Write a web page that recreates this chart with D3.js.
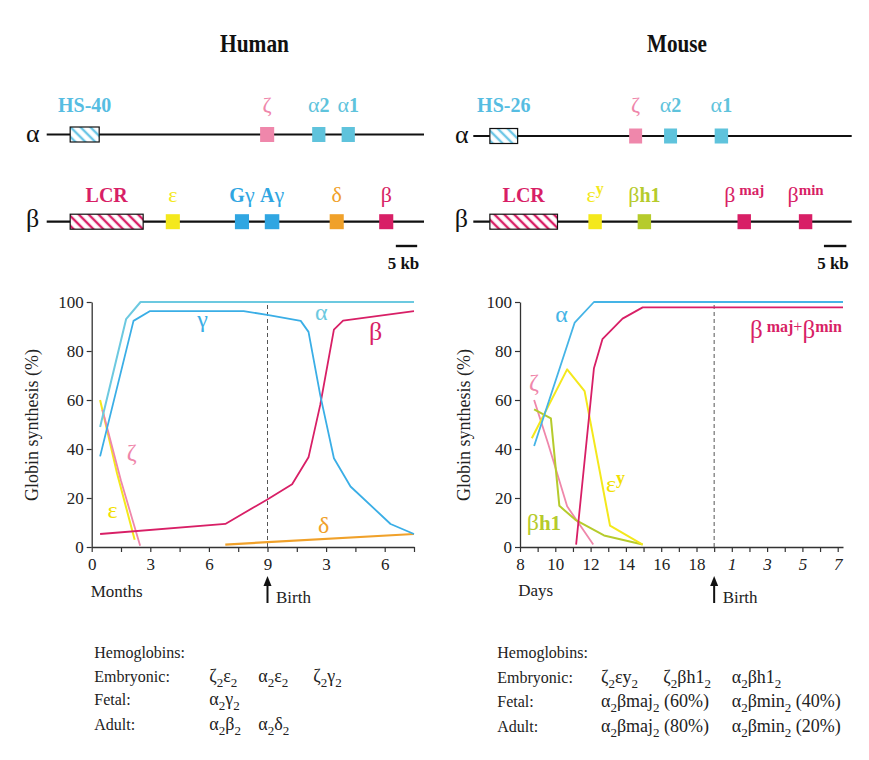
<!DOCTYPE html>
<html><head><meta charset="utf-8">
<script src="https://cdn.jsdelivr.net/npm/d3@7/dist/d3.min.js"></script>
<style>
body{margin:0;background:#fff;}
svg{display:block;}
svg text, svg tspan{font-family:"Liberation Serif","Times New Roman",Times,"DejaVu Serif",serif;}
</style></head><body>
<svg id="fig" width="869" height="760" font-family="Liberation Serif, Times New Roman, DejaVu Serif, serif"></svg>
<script>
// ================= DATA =================
const yTicks = [0, 20, 40, 60, 80, 100];
const humanXTicks = [0, 1.5, 3, 4.5, 6, 7.5, 9, 10.5, 12, 13.5, 15, 16.5];
const humanXLabelVals = [0, 3, 6, 9, 12, 15];
const humanXLabels = ["0", "3", "6", "9", "3", "6"];
const mouseXTicks = [8,9,10,11,12,13,14,15,16,17,18,19,20,21,22,23,24,25,26];
const mouseXLabelVals = [8, 10, 12, 14, 16, 18, 20, 22, 24, 26];
const mouseXLabels = ["8", "10", "12", "14", "16", "18", "1", "3", "5", "7"];
const humanBirth = 9;   // months
const mouseBirth = 19;  // days

// human series: [months, % synthesis]
const humanAlpha   = [[0.43,49],[1.76,93],[2.5,100],[16.5,100]];
const humanGamma   = [[0.43,37],[2.14,92.3],[2.99,96.3],[7.78,96.3],[9.06,94.6],[10.7,92.3],[11.1,87.8],[11.7,62],[12.4,36.2],[13.25,24.7],[15.3,9.4],[16.5,5.3]];
const humanBeta    = [[0.43,5.3],[6.84,9.4],[7.69,13.4],[8.97,19.3],[10.26,25.6],[11.1,36.6],[11.7,58],[12.4,88.7],[12.87,92.4],[16.5,96.3]];
const humanEpsilon = [[0.43,60],[1.3,30],[2.2,3]];
const humanZeta    = [[0.55,56],[1.5,27],[2.48,0.5]];
const humanDelta   = [[6.84,1],[16.5,5.3]];

// mouse series: [days, % synthesis]
const mouseAlpha = [[8.8,41.2],[11.1,91.6],[12.19,100],[26.3,100]];
const mouseBeta  = [[11.18,1],[12.19,73],[12.67,84.8],[13.81,93.2],[14.95,97.8],[26.3,97.8]];
const mouseEy    = [[8.67,44.4],[10.67,72.5],[11.66,63.6],[13.1,8.7],[14.95,1]];
const mouseBh1   = [[8.8,56.2],[9.75,52.5],[10.23,16.8],[11.14,11.1],[12.76,4.7],[14.95,1]];
const mouseZeta  = [[8.8,60],[9.6,42],[10.67,16.6],[12.15,1]];

// gene maps (positions in kb from the start of each locus line)
const humanAlphaGenes = [
  {label:[{t:"HS-40",w:"bold",s:20}], start:5.5, end:12.3, kind:"hatch", color:"#56bde2"},
  {label:[{t:"ζ",s:22}], start:50, end:53.3, color:"#ef87ab"},
  {label:[{t:"α",s:22},{t:"2",s:20,w:"bold"}], start:62.2, end:65.3, color:"#5fc3dc"},
  {label:[{t:"α",s:22},{t:"1",s:20,w:"bold"}], start:69.1, end:72.2, color:"#5fc3dc"}
];
const humanBetaGenes = [
  {label:[{t:"LCR",w:"bold",s:20}], start:5.5, end:22.6, kind:"hatch", color:"#d81f66"},
  {label:[{t:"ε",s:22}], start:27.9, end:31.2, color:"#f4e81c"},
  {label:[{t:"G",w:"bold",s:20},{t:"γ",s:22}], start:44.1, end:47.4, color:"#30a6e2"},
  {label:[{t:"A",w:"bold",s:20},{t:"γ",s:22}], start:51.1, end:54.5, color:"#30a6e2"},
  {label:[{t:"δ",s:22}], start:66.3, end:69.6, color:"#f0a12a"},
  {label:[{t:"β",s:22}], start:77.9, end:81.2, color:"#d81f66"}
];
const mouseAlphaGenes = [
  {label:[{t:"HS-26",w:"bold",s:20}], start:3.7, end:9.9, kind:"hatch", color:"#56bde2"},
  {label:[{t:"ζ",s:22}], start:34.8, end:37.7, color:"#ef87ab"},
  {label:[{t:"α",s:22},{t:"2",s:20,w:"bold"}], start:42.6, end:45.5, color:"#5fc3dc"},
  {label:[{t:"α",s:22},{t:"1",s:20,w:"bold"}], start:53.9, end:56.9, color:"#5fc3dc"}
];
const mouseBetaGenes = [
  {label:[{t:"LCR",w:"bold",s:20}], start:3.7, end:18.8, kind:"hatch", color:"#d81f66"},
  {label:[{t:"ε",s:22},{t:"y",s:16,w:"bold",dy:-8}], start:25.7, end:28.7, color:"#f4e81c"},
  {label:[{t:"β",s:22},{t:"h1",s:20,w:"bold"}], start:36.7, end:39.7, color:"#b6cb2c"},
  {label:[{t:"β",s:22},{t:" maj",s:15,w:"bold",dy:-7}], start:59, end:62, color:"#d81f66"},
  {label:[{t:"β",s:22},{t:"min",s:15,w:"bold",dy:-7}], start:72.7, end:75.7, color:"#d81f66"}
];
const humanLocusKb = 88.4, mouseLocusKb = 84.5;
const humanScaleBar = [81.8, 86.8], mouseScaleBar = [78.3, 83.3];

// hemoglobin tables
const hbRowNames = ["Embryonic:", "Fetal:", "Adult:"];
const humanHb = [["ζ_2ε_2","α_2ε_2","ζ_2γ_2"],["α_2γ_2"],["α_2β_2","α_2δ_2"]];
const mouseHb = [["ζ_2εy_2","ζ_2βh1_2","α_2βh1_2"],["α_2βmaj_2 (60%)","α_2βmin_2 (40%)"],["α_2βmaj_2 (80%)","α_2βmin_2 (20%)"]];

// ================= DRAW =================
const SERIF = "Liberation Serif, Times New Roman, DejaVu Serif, serif";
const svg = d3.select("#fig");
const defs = svg.append("defs");
function hatch(id, color){
  const p = defs.append("pattern").attr("id",id).attr("patternUnits","userSpaceOnUse")
    .attr("width",7).attr("height",7).attr("patternTransform","rotate(-45)");
  p.append("rect").attr("width",7).attr("height",7).attr("fill","#fff");
  p.append("line").attr("x1",2).attr("y1",0).attr("x2",2).attr("y2",7)
    .attr("stroke",color).attr("stroke-width",2.4);
}
hatch("hBlue","#6cc6e6"); hatch("hMag","#d81f66");

function rich(sel, x, y, parts, anchor, fill){
  const t = sel.append("text").attr("x",x).attr("y",y).attr("font-family",SERIF)
    .attr("text-anchor",anchor||"middle").attr("fill",fill||"#111");
  let shift = 0;
  parts.forEach(p=>{
    const ts = t.append("tspan").text(p.t);
    if(p.s) ts.attr("font-size",p.s);
    if(p.w) ts.attr("font-weight",p.w);
    if(p.st) ts.attr("font-style",p.st);
    if(p.fill) ts.attr("fill",p.fill);
    const want = p.dy||0;
    if(want!==shift){ ts.attr("dy", want-shift); shift = want; }
  });
  return t;
}

// Titles
svg.append("text").attr("x",254.5).attr("y",52).attr("text-anchor","middle").attr("font-family",SERIF)
  .attr("font-weight","bold").attr("font-size",26).attr("textLength",69)
  .attr("lengthAdjust","spacingAndGlyphs").attr("fill","#111").text("Human");
svg.append("text").attr("x",677).attr("y",52).attr("text-anchor","middle").attr("font-family",SERIF)
  .attr("font-weight","bold").attr("font-size",26).attr("textLength",60)
  .attr("lengthAdjust","spacingAndGlyphs").attr("fill","#111").text("Mouse");

// Gene maps
function locus(genes, kbScale, lineY, labelY, rowName, nameX, nameY){
  const g = svg.append("g");
  const [k0,k1] = kbScale.domain();
  g.append("line").attr("x1",kbScale(k0)).attr("x2",kbScale(k1))
    .attr("y1",lineY).attr("y2",lineY).attr("stroke","#111").attr("stroke-width",2.2);
  g.selectAll("rect.gene").data(genes).join("rect").attr("class","gene")
    .attr("x",d=>kbScale(d.start)).attr("width",d=>kbScale(d.end)-kbScale(d.start))
    .attr("y",lineY-7.5).attr("height",15)
    .attr("fill",d=>d.kind==="hatch" ? (d.color==="#d81f66"?"url(#hMag)":"url(#hBlue)") : d.color)
    .attr("stroke",d=>d.kind==="hatch"?"#111":"none").attr("stroke-width",1.2);
  genes.forEach(d=>{
    rich(g, (kbScale(d.start)+kbScale(d.end))/2, labelY, d.label, "middle", d.color);
  });
  rich(g, nameX, nameY, [{t:rowName, s:26}], "middle", "#111");
}
const hkb = d3.scaleLinear([0,humanLocusKb],[46.7,424]);
const mkb = d3.scaleLinear([0,mouseLocusKb],[473.3,851.7]);
locus(humanAlphaGenes, hkb, 134.5, 111.5, "α", 32.7, 141.7);
locus(humanBetaGenes, hkb, 221.7, 201.5, "β", 32.5, 227);
locus(mouseAlphaGenes, mkb, 136, 111.5, "α", 461.7, 143);
locus(mouseBetaGenes, mkb, 221.7, 201.5, "β", 461.3, 227);

function scaleBar(kbScale, ext, textX){
  svg.append("line").attr("x1",kbScale(ext[0])).attr("x2",kbScale(ext[1]))
    .attr("y1",246).attr("y2",246).attr("stroke","#111").attr("stroke-width",2.4);
  svg.append("text").attr("x",textX).attr("y",269).attr("text-anchor","middle").attr("font-family",SERIF)
    .attr("font-weight","bold").attr("font-size",17).attr("fill","#111").text("5 kb");
}
scaleBar(hkb, humanScaleBar, 403.5);
scaleBar(mkb, mouseScaleBar, 833);

// Charts
const y = d3.scaleLinear([0,100],[547,302]);
const hx = d3.scaleLinear([0,16.5],[91.7,414]);
const mx = d3.scaleLinear([8,26.3],[520,843]);

function axes(x, ticks, labelVals, labels, italicFrom, yTitleX){
  const g = svg.append("g");
  const xa = d3.axisBottom(x).tickValues(ticks).tickSize(5).tickSizeOuter(0).tickPadding(6)
    .tickFormat(d=>{ const i = labelVals.indexOf(d); return i>=0 ? labels[i] : ""; });
  const gx = g.append("g").attr("transform",`translate(0,${y(0)})`).call(xa);
  const ya = d3.axisLeft(y).tickValues(yTicks).tickSize(5).tickSizeOuter(0).tickPadding(3);
  const gy = g.append("g").attr("transform",`translate(${x.range()[0]},0)`).call(ya);
  [gx,gy].forEach(a=>{
    a.attr("font-family",SERIF).attr("font-size",17);
    a.select(".domain").attr("stroke","#333").attr("stroke-width",1.3);
    a.selectAll(".tick line").attr("stroke","#333").attr("stroke-width",1.2);
    a.selectAll(".tick text").attr("font-family",SERIF).attr("font-size",17).attr("fill","#222");
  });
  if(italicFrom!=null) gx.selectAll(".tick text").filter(d=>d>=italicFrom).attr("font-style","italic");
  g.append("text").attr("transform",`translate(${yTitleX},425) rotate(-90)`).attr("font-family",SERIF)
    .attr("text-anchor","middle").attr("font-size",18).attr("fill","#222").text("Globin synthesis (%)");
  return g;
}
function birth(x, b){
  svg.append("line").attr("x1",x(b)).attr("x2",x(b)).attr("y1",y(0)).attr("y2",y(100))
    .attr("stroke","#555").attr("stroke-width",1).attr("stroke-dasharray","4,3");
  svg.append("line").attr("x1",x(b)).attr("x2",x(b)).attr("y1",603).attr("y2",584)
    .attr("stroke","#111").attr("stroke-width",2);
  svg.append("path").attr("d",`M${x(b)-4},586 L${x(b)},576 L${x(b)+4},586 Z`).attr("fill","#111");
  svg.append("text").attr("x",x(b)+8.5).attr("y",603).attr("font-family",SERIF).attr("font-size",17).attr("fill","#222").text("Birth");
}
function series(x, data, color, w){
  svg.append("path").datum(data)
    .attr("d", d3.line().x(d=>x(d[0])).y(d=>y(d[1])))
    .attr("fill","none").attr("stroke",color).attr("stroke-width",w||1.8)
    .attr("stroke-linejoin","round");
}

// Human chart
axes(hx, humanXTicks, humanXLabelVals, humanXLabels, null, 38);
birth(hx, humanBirth);
series(hx, humanDelta, "#f0a12a", 2.2);
series(hx, humanEpsilon, "#f4e81c", 2);
series(hx, humanZeta, "#ef87ab");
series(hx, humanBeta, "#d81f66");
series(hx, humanGamma, "#3aaee6");
series(hx, humanAlpha, "#6cc9e0", 2);
svg.append("text").attr("x",90.7).attr("y",597).attr("font-family",SERIF).attr("font-size",17).attr("fill","#222").text("Months");

rich(svg, hx(11.76), y(92.6), [{t:"α",s:24}], "middle", "#6cc9e0");
rich(svg, hx(5.68), y(89.8), [{t:"γ",s:24}], "middle", "#3aaee6");
rich(svg, hx(14.54), y(84.5), [{t:"β",s:26}], "middle", "#d81f66");
rich(svg, hx(2.05), y(35.5), [{t:"ζ",s:24}], "middle", "#ef87ab");
rich(svg, hx(1.07), y(11.8), [{t:"ε",s:24}], "middle", "#f2e000");
rich(svg, hx(11.88), y(5.7), [{t:"δ",s:24}], "middle", "#f0a12a");

// Mouse chart
axes(mx, mouseXTicks, mouseXLabelVals, mouseXLabels, 20, 470);
birth(mx, mouseBirth);
series(mx, mouseZeta, "#ef87ab");
series(mx, mouseBh1, "#b6cb2c", 2);
series(mx, mouseEy, "#f4e81c", 2);
series(mx, mouseBeta, "#d81f66");
series(mx, mouseAlpha, "#45b4e6");
svg.append("text").attr("x",518.3).attr("y",596).attr("font-family",SERIF).attr("font-size",17).attr("fill","#222").text("Days");

rich(svg, mx(10.36), y(91.8), [{t:"α",s:24}], "middle", "#45b4e6");
rich(svg, mx(8.79), y(64), [{t:"ζ",s:24}], "middle", "#ef87ab");
rich(svg, mx(12.87), y(22.6), [{t:"ε",s:24},{t:"y",s:18,w:"bold",dy:-8}], "start", "#f2e000");
rich(svg, mx(8.38), y(6.9), [{t:"β",s:24},{t:"h1",s:21,w:"bold"}], "start", "#b6cb2c");
rich(svg, mx(21.03), y(85.3), [{t:"β",s:25},{t:" maj",s:16,w:"bold",dy:-6},{t:"+",s:16,dy:-6},{t:"β",s:25,dy:0},{t:"min",s:16,w:"bold",dy:-6}], "start", "#d81f66");

// Hemoglobin tables
function formula(sel, x, yy, str){
  const t = sel.append("text").attr("x",x).attr("y",yy).attr("font-family",SERIF).attr("font-size",18).attr("fill","#222");
  const parts = str.split(/_(.)/);
  let shifted = false;
  parts.forEach((p,i)=>{
    if(i%2===0){
      if(p==="") return;
      const ts = t.append("tspan").text(p);
      if(shifted){ ts.attr("dy",-5); shifted=false; }
    } else {
      const ts = t.append("tspan").text(p).attr("font-size",13);
      if(!shifted){ ts.attr("dy",5); shifted=true; }
    }
  });
}
function table(x0, baselines, cols, data){
  svg.append("text").attr("x",x0).attr("y",baselines[0]).attr("font-family",SERIF).attr("font-size",16).attr("fill","#222").text("Hemoglobins:");
  hbRowNames.forEach((r,i)=>{
    svg.append("text").attr("x",x0).attr("y",baselines[i+1]).attr("font-family",SERIF).attr("font-size",16).attr("fill","#222").text(r);
    data[i].forEach((f,j)=> formula(svg, cols[i][j], baselines[i+1], f));
  });
}
table(94.3, [658.3,681.5,705,729.5], [[209.3,258.3,313.3],[209.3],[209.3,258.3]], humanHb);
table(497.3, [658.3,683,706.7,731.5], [[601,663.3,731.7],[601,731.7],[601,731.7]], mouseHb);
</script></body></html>
